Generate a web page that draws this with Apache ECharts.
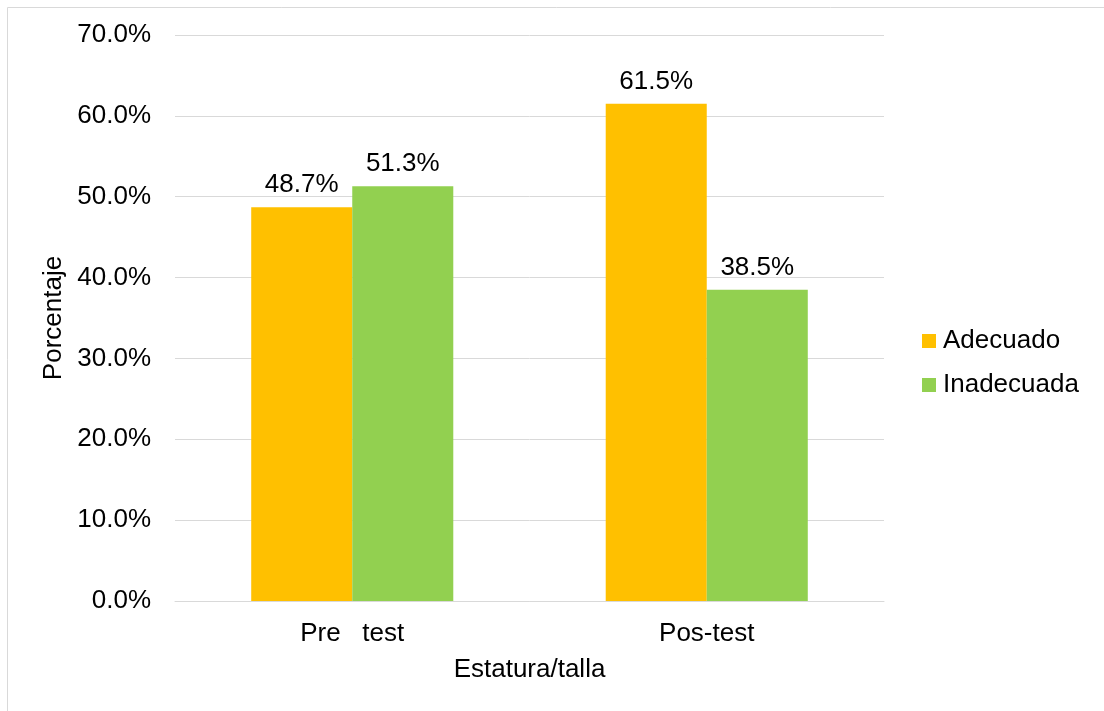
<!DOCTYPE html>
<html><head><meta charset="utf-8">
<script src="https://cdn.jsdelivr.net/npm/echarts@6/dist/echarts.min.js"></script>
<style>html,body{margin:0;padding:0;background:#fff}#c{width:1104px;height:711px}</style>
</head><body><div id="c"></div>
<script>
const categories = ['Pre   test', 'Pos-test'];
const adecuado = [48.7, 61.5];
const inadecuada = [51.3, 38.5];
const seriesNames = ['Adecuado', 'Inadecuada'];
const FONT = '"Liberation Sans", Arial, sans-serif';
const FS = 26;
const chart = echarts.init(document.getElementById('c'), null, {renderer: 'canvas'});
const lbl = {show: true, position: 'top', distance: 9, color: '#000', fontSize: FS, fontFamily: FONT,
  formatter: p => p.value.toFixed(1) + '%'};
chart.setOption({
  animation: false,
  textStyle: {fontFamily: FONT},
  graphic: [{type: 'rect', shape: {x: 7.5, y: 7.5, width: 1200, height: 800},
    style: {fill: 'none', stroke: '#d9d9d9', lineWidth: 1}, silent: true, z: -1}],
  grid: {left: 175, right: 220, top: 35, bottom: 110, containLabel: false},
  legend: {orient: 'vertical', left: 917, top: 323, itemWidth: 14, itemHeight: 14, itemGap: 18,
    icon: 'rect', textStyle: {fontSize: FS, color: '#000', fontFamily: FONT, padding: [0, 0, 0, 2]},
    data: seriesNames},
  xAxis: {type: 'category', data: categories, name: 'Estatura/talla', nameLocation: 'middle', nameGap: 56,
    nameTextStyle: {fontSize: FS, color: '#000', fontFamily: FONT},
    axisLine: {lineStyle: {color: '#d9d9d9', width: 1}}, axisTick: {show: false},
    axisLabel: {fontSize: FS, color: '#000', margin: 20, fontFamily: FONT}},
  yAxis: {type: 'value', min: 0, max: 70, interval: 10, name: 'Porcentaje', nameLocation: 'middle', nameGap: 108,
    nameTextStyle: {fontSize: FS, color: '#000', fontFamily: FONT},
    axisLabel: {formatter: v => v.toFixed(1) + '%', fontSize: FS, color: '#000', margin: 24, fontFamily: FONT},
    splitLine: {lineStyle: {color: '#d9d9d9', width: 1}}, axisLine: {show: false}, axisTick: {show: false}},
  series: [
    {name: seriesNames[0], type: 'bar', data: adecuado, itemStyle: {color: '#FFC000'}, barGap: '0%', barCategoryGap: '43%', label: lbl},
    {name: seriesNames[1], type: 'bar', data: inadecuada, itemStyle: {color: '#92D050'}, barGap: '0%', barCategoryGap: '43%', label: lbl}
  ]
});
</script></body></html>
